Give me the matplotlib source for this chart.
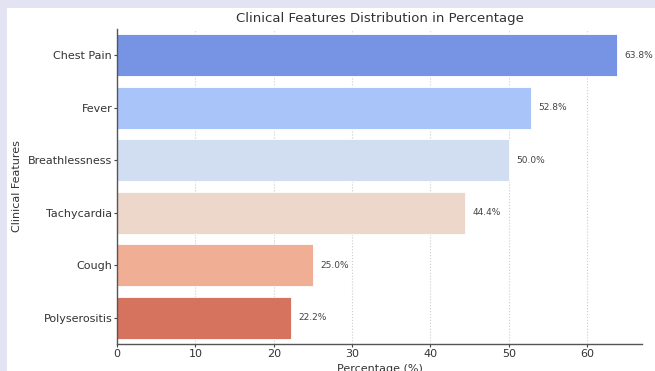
import matplotlib
matplotlib.use("Agg")
import matplotlib.pyplot as plt
from matplotlib.patches import Rectangle

features = ["Chest Pain", "Fever", "Breathlessness", "Tachycardia", "Cough", "Polyserositis"]
percentages = [63.8, 52.8, 50.0, 44.4, 25.0, 22.2]
bar_colors = ["#7793e3", "#a9c4f8", "#d1ddf0", "#edd7cb", "#f0af95", "#d5735f"]

W, H = 655, 371
fig = plt.figure(figsize=(W / 100, H / 100), dpi=100)
fig.patch.set_facecolor("#e3e3f3")
fig.patches.append(Rectangle((7 / W, 0), 1, 1 - 8 / H, transform=fig.transFigure,
                             facecolor="white", edgecolor="none", zorder=-5))

left, right, top, bottom = 117, 642, 29, 344
ax = fig.add_axes([left / W, 1 - bottom / H, (right - left) / W, (bottom - top) / H])
ax.set_facecolor("white")

y = list(range(len(features)))
ax.barh(y, percentages, height=0.8, color=bar_colors, edgecolor="white", linewidth=0.6, zorder=2)
ax.set_ylim(len(features) - 0.5, -0.5)
ax.set_xlim(0, 67)
ax.set_yticks(y)
ax.set_yticklabels(features)
ax.set_xticks([0, 10, 20, 30, 40, 50, 60])

for yi, v in zip(y, percentages):
    ax.text(v + 1.0, yi, f"{v:.1f}%", va="center", ha="left", fontsize=6.5, color="#444444")

ax.grid(axis="x", linestyle=":", color="#cccccc", linewidth=0.8, zorder=0)
ax.set_axisbelow(True)
for s in ["top", "right"]:
    ax.spines[s].set_visible(False)
for s in ["left", "bottom"]:
    ax.spines[s].set_color("#555555")
    ax.spines[s].set_linewidth(1.0)
ax.tick_params(axis="both", labelsize=8, colors="#444444", length=2, width=0.8, pad=1.5)
ax.tick_params(axis="both", labelcolor="#333333")

ax.set_title("Clinical Features Distribution in Percentage", fontsize=9.5, color="#333333", pad=5)
ax.set_xlabel("Percentage (%)", fontsize=8, color="#333333", labelpad=4)
ax.set_ylabel("Clinical Features", fontsize=8, color="#333333", labelpad=4)

fig.savefig("out.png", dpi=100, facecolor=fig.get_facecolor())
